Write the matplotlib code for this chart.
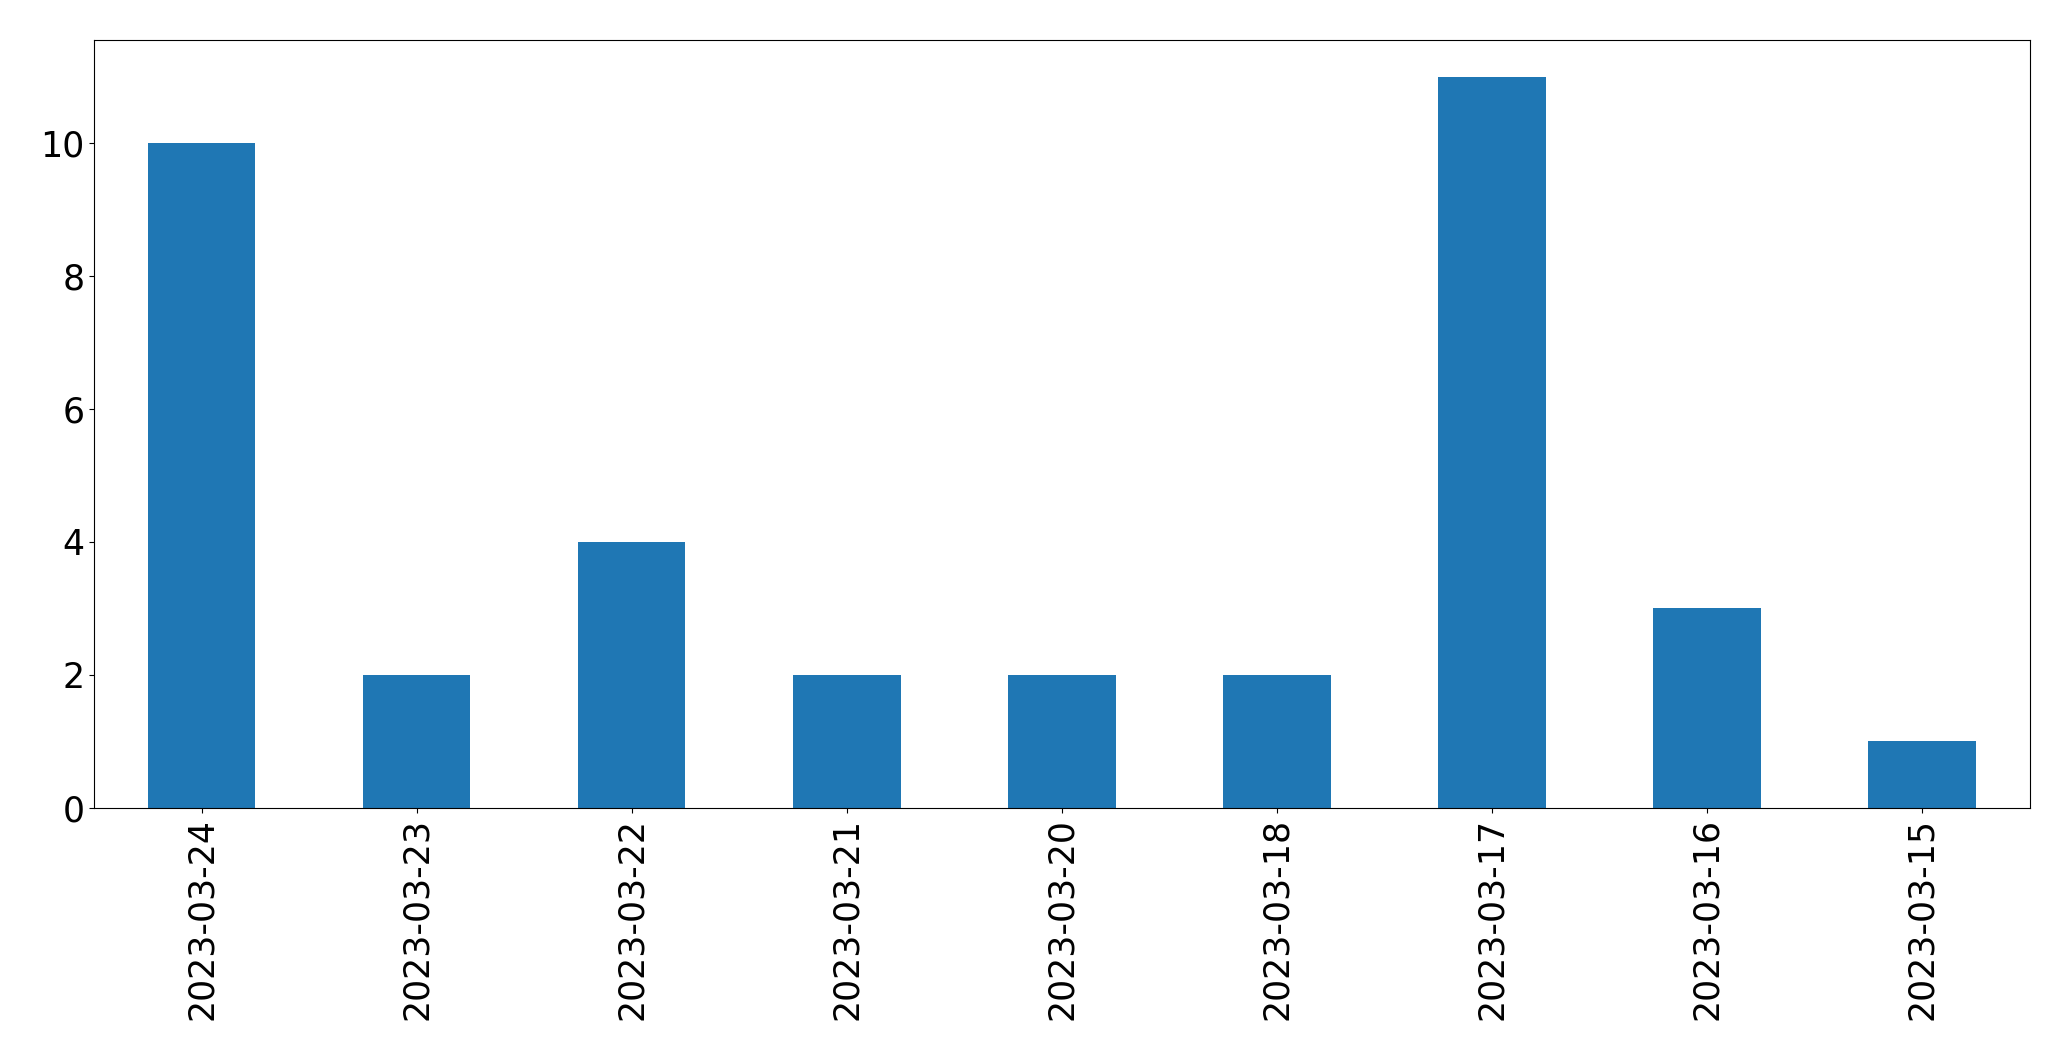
import matplotlib
matplotlib.use("Agg")
import matplotlib.pyplot as plt

dates = ["2023-03-24", "2023-03-23", "2023-03-22", "2023-03-21", "2023-03-20",
         "2023-03-18", "2023-03-17", "2023-03-16", "2023-03-15"]
counts = [10, 2, 4, 2, 2, 2, 11, 3, 1]

fig = plt.figure(figsize=(20.71, 10.61), dpi=100)
ax = fig.add_axes([0.0454, 0.2385, 0.9346, 0.7238])
x = list(range(len(dates)))
ax.bar(x, counts, width=0.5, color="#1f77b4")
ax.set_xlim(-0.5, len(dates) - 0.5)
ax.set_ylim(0, max(counts) * 1.05)
ax.set_xticks(x)
ax.set_xticklabels(dates, rotation=90)
ax.tick_params(labelsize=25)
fig.savefig("out.png", dpi=100)
